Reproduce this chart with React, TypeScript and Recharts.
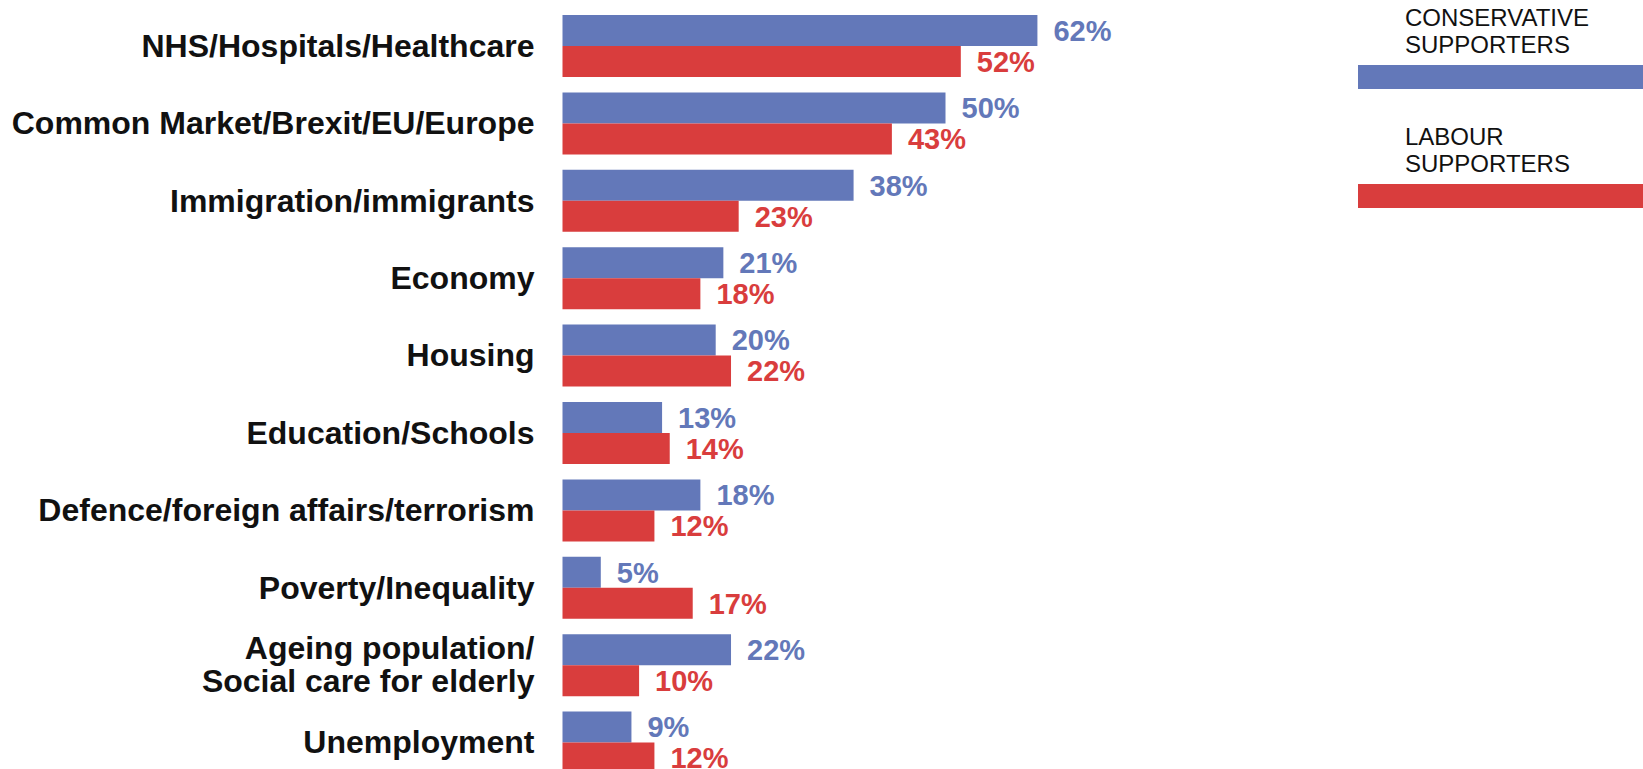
import { Bar, BarChart, LabelList, Legend, XAxis, YAxis } from "recharts";

const topics = [
  "NHS/Hospitals/Healthcare",
  "Common Market/Brexit/EU/Europe",
  "Immigration/immigrants",
  "Economy",
  "Housing",
  "Education/Schools",
  "Defence/foreign affairs/terrorism",
  "Poverty/Inequality",
  "Ageing population/\nSocial care for elderly",
  "Unemployment"
];

const conservative = [62, 50, 38, 21, 20, 13, 18, 5, 22, 9];
const labour = [52, 43, 23, 18, 22, 14, 12, 17, 10, 12];

const series = [
  { key: "conservative", name: "CONSERVATIVE\nSUPPORTERS", color: "#6378b9" },
  { key: "labour", name: "LABOUR\nSUPPORTERS", color: "#d93d3d" }
];

const rows = topics.map((topic, i) => ({
  topic,
  conservative: conservative[i],
  labour: labour[i]
}));

const font = "'Liberation Sans', Arial, Helvetica, sans-serif";

function TopicTick(props: any) {
  const { x, y, payload } = props;
  const lines = String(payload.value).split("\n");
  const lh = 33;
  const first = 11 - ((lines.length - 1) * lh) / 2;
  return (
    <text x={x} y={y} textAnchor="end" fontFamily={font} fontSize={32} fontWeight="bold" fill="#111">
      {lines.map((line, i) => (
        <tspan key={i} x={x} dy={i === 0 ? first : lh}>
          {line}
        </tspan>
      ))}
    </text>
  );
}

function SupporterLegend() {
  return (
    <div style={{ width: 285, fontFamily: font, fontSize: 24, color: "#111" }}>
      {series.map((s, i) => (
        <div key={s.key} style={{ marginTop: i === 0 ? 4.2 : 34 }}>
          <div style={{ paddingLeft: 47, lineHeight: "27px", whiteSpace: "pre" }}>{s.name}</div>
          <div style={{ marginTop: 7, height: 24, background: s.color }} />
        </div>
      ))}
    </div>
  );
}

export default function App() {
  return (
    <div style={{ position: "absolute", left: 0, top: 0, width: 1643, height: 769, overflow: "hidden", background: "#fff" }}>
      <BarChart
        width={1643}
        height={781}
        data={rows}
        layout="vertical"
        margin={{ top: 7, right: 29.5, bottom: 0, left: 0 }}
        barGap={0}
      >
        <XAxis type="number" domain={[0, 100]} hide />
        <YAxis
          type="category"
          dataKey="topic"
          width={562.5}
          axisLine={false}
          tickLine={false}
          tickSize={0}
          tickMargin={28}
          interval={0}
          tick={<TopicTick />}
        />
        <Legend
          layout="vertical"
          align="right"
          verticalAlign="top"
          width={285}
          wrapperStyle={{ top: 0, right: 0 }}
          content={<SupporterLegend />}
        />
        {series.map((s) => (
          <Bar key={s.key} dataKey={s.key} fill={s.color} barSize={31} isAnimationActive={false}>
            <LabelList
              dataKey={s.key}
              position="right"
              offset={16}
              formatter={(v: any) => `${v}%`}
              fill={s.color}
              fontFamily={font}
              fontSize={29}
              fontWeight="bold"
            />
          </Bar>
        ))}
      </BarChart>
    </div>
  );
}
